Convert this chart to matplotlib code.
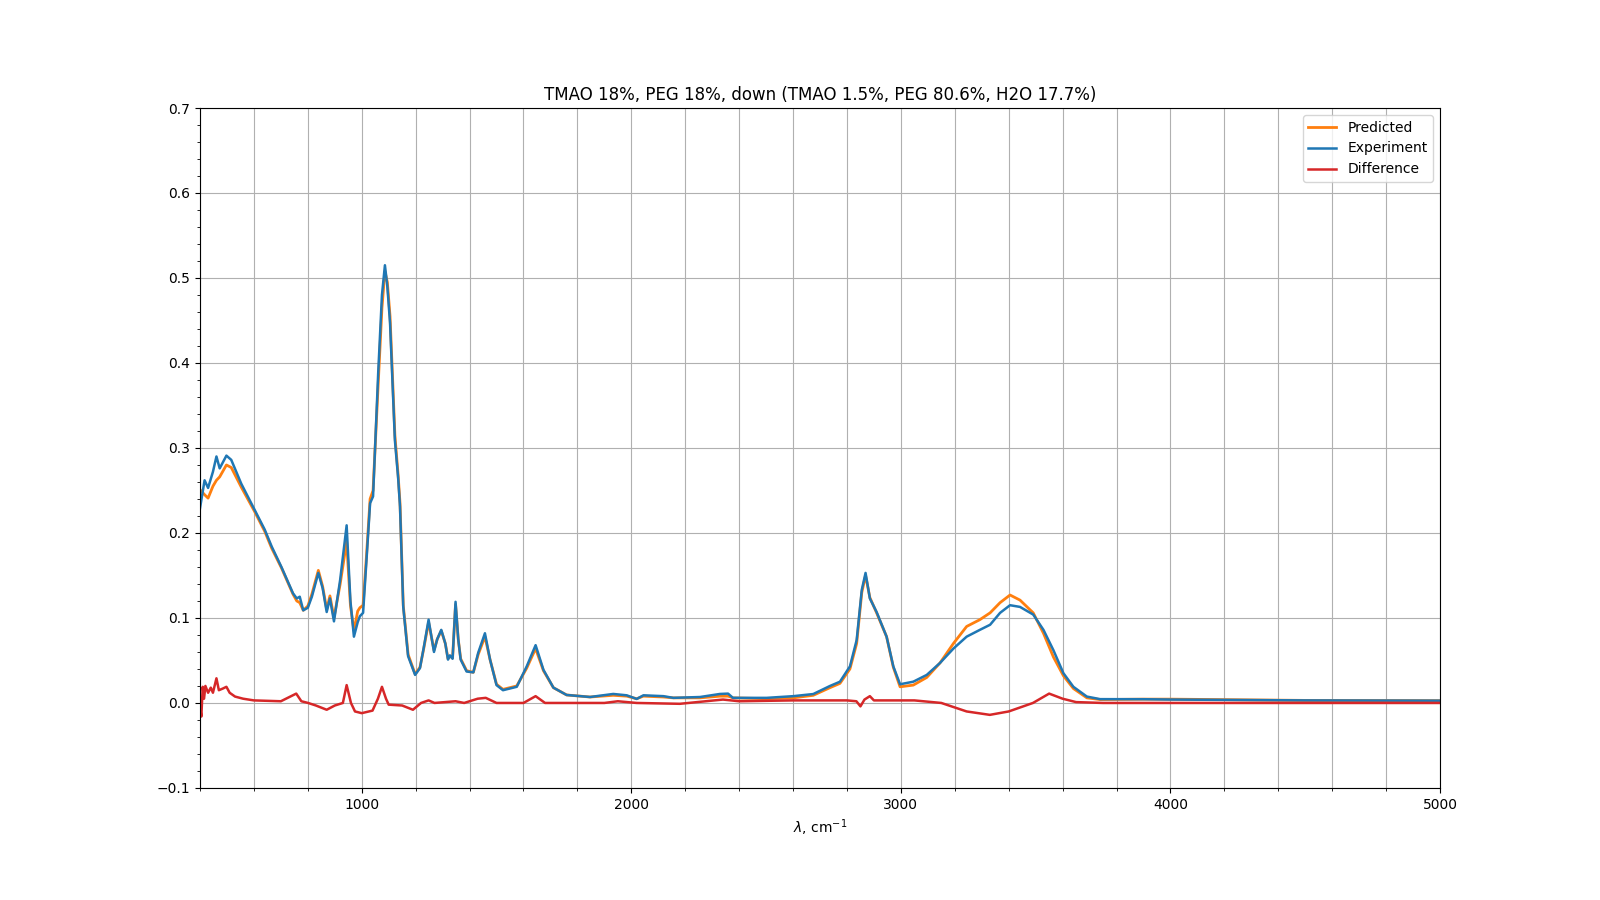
import matplotlib
matplotlib.use("Agg")
import matplotlib.pyplot as plt
from matplotlib.ticker import MultipleLocator

# --- data ---
wavenumber = [400, 417, 430, 448, 461, 473, 498, 516, 553, 603, 640, 666, 702, 745, 759, 770,
              783, 800, 815, 839, 855, 870, 882, 897, 920, 944, 958, 971, 985, 993, 1005, 1018,
              1031, 1042, 1061, 1075, 1086, 1095, 1105, 1123, 1135, 1142, 1154, 1172, 1198, 1216,
              1230, 1248, 1268, 1280, 1295, 1310, 1320, 1327, 1337, 1348, 1358, 1367, 1389, 1414,
              1432, 1457, 1476, 1500, 1524, 1575, 1612, 1645, 1674, 1711, 1760, 1847, 1933, 1983,
              2020, 2045, 2119, 2156, 2255, 2329, 2359, 2377, 2502, 2601, 2675, 2737, 2774, 2811,
              2836, 2855, 2869, 2885, 2910, 2947, 2972, 2997, 3046, 3096, 3145, 3195, 3244, 3293,
              3331, 3368, 3405, 3442, 3491, 3529, 3566, 3603, 3640, 3690, 3739, 3900, 4000, 4500,
              5000]

experiment = [0.229, 0.262, 0.253, 0.272, 0.290, 0.276, 0.291, 0.286, 0.258, 0.227, 0.204, 0.184,
              0.160, 0.129, 0.123, 0.125, 0.109, 0.112, 0.125, 0.153, 0.135, 0.107, 0.123, 0.096,
              0.145, 0.209, 0.120, 0.078, 0.095, 0.102, 0.106, 0.170, 0.235, 0.243, 0.388, 0.480,
              0.515, 0.490, 0.447, 0.309, 0.265, 0.231, 0.113, 0.055, 0.033, 0.041, 0.065, 0.098,
              0.060, 0.075, 0.086, 0.070, 0.051, 0.056, 0.052, 0.119, 0.075, 0.051, 0.037, 0.036,
              0.059, 0.082, 0.051, 0.021, 0.015, 0.019, 0.043, 0.068, 0.039, 0.018, 0.0094, 0.007,
              0.0106, 0.009, 0.0047, 0.009, 0.008, 0.006, 0.007, 0.0106, 0.011, 0.006, 0.006, 0.008,
              0.0105, 0.020, 0.025, 0.043, 0.074, 0.133, 0.153, 0.123, 0.107, 0.078, 0.043, 0.022,
              0.025, 0.033, 0.047, 0.064, 0.078, 0.086, 0.092, 0.106, 0.115, 0.113, 0.104, 0.086,
              0.062, 0.035, 0.019, 0.0075, 0.0045, 0.0044, 0.0040, 0.003, 0.0027]

predicted = [0.251, 0.245, 0.241, 0.255, 0.262, 0.266, 0.280, 0.277, 0.254, 0.225, 0.202, 0.182,
             0.159, 0.128, 0.120, 0.118, 0.109, 0.114, 0.128, 0.156, 0.137, 0.110, 0.126, 0.100,
             0.140, 0.190, 0.115, 0.085, 0.108, 0.112, 0.115, 0.175, 0.240, 0.250, 0.375, 0.465,
             0.508, 0.495, 0.455, 0.315, 0.268, 0.235, 0.115, 0.057, 0.034, 0.042, 0.064, 0.095,
             0.062, 0.075, 0.085, 0.070, 0.052, 0.055, 0.053, 0.116, 0.075, 0.052, 0.038, 0.036,
             0.057, 0.078, 0.051, 0.022, 0.016, 0.020, 0.041, 0.064, 0.038, 0.018, 0.0094, 0.007,
             0.009, 0.008, 0.005, 0.008, 0.007, 0.006, 0.006, 0.008, 0.008, 0.006, 0.005, 0.006,
             0.009, 0.018, 0.023, 0.040, 0.070, 0.130, 0.150, 0.124, 0.106, 0.078, 0.042, 0.019,
             0.021, 0.030, 0.047, 0.070, 0.090, 0.098, 0.106, 0.118, 0.127, 0.121, 0.106, 0.082,
             0.054, 0.032, 0.017, 0.006, 0.004, 0.0045, 0.0045, 0.003, 0.0027]

diff_wavenumber = [400, 405, 410, 415, 420, 430, 440, 448, 461, 470, 485, 498, 510, 530, 560, 600,
                   700, 757, 776, 801, 830, 870, 900, 930, 944, 960, 975, 1000, 1040, 1060, 1075,
                   1090, 1100, 1150, 1190, 1220, 1248, 1270, 1348, 1380, 1430, 1460, 1500, 1600,
                   1645, 1680, 1900, 1950, 2020, 2180, 2340, 2400, 2600, 2800, 2835, 2850, 2865,
                   2885, 2900, 3050, 3150, 3244, 3330, 3400, 3490, 3550, 3600, 3650, 3750, 5000]
difference = [-0.004, -0.016, 0.019, 0.005, 0.020, 0.012, 0.018, 0.012, 0.029, 0.015, 0.017, 0.019,
              0.012, 0.0075, 0.005, 0.003, 0.002, 0.011, 0.002, 0.000, -0.003, -0.008, -0.003,
              0.000, 0.021, 0.000, -0.010, -0.012, -0.009, 0.005, 0.019, 0.005, -0.002, -0.003,
              -0.008, 0.000, 0.003, 0.000, 0.002, 0.000, 0.005, 0.006, 0.000, 0.000, 0.008, 0.000,
              0.000, 0.002, 0.000, -0.001, 0.004, 0.002, 0.003, 0.003, 0.002, -0.004, 0.004, 0.008,
              0.003, 0.003, 0.000, -0.010, -0.014, -0.010, 0.000, 0.011, 0.005, 0.001, 0.000, 0.000]

title = "TMAO 18%, PEG 18%, down (TMAO 1.5%, PEG 80.6%, H2O 17.7%)"

fig, ax = plt.subplots(figsize=(16, 9), dpi=100)
fig.subplots_adjust(left=0.125, right=0.9, top=0.88, bottom=0.1245)

ax.plot(wavenumber, predicted, color="#ff7f0e", linewidth=2.0, label="Predicted")
ax.plot(wavenumber, experiment, color="#1f77b4", linewidth=1.8, label="Experiment")
ax.plot(diff_wavenumber, difference, color="#d62728", linewidth=1.8, label="Difference")

ax.set_xlim(400, 5000)
ax.set_ylim(-0.1, 0.7)
ax.xaxis.set_major_locator(MultipleLocator(1000))
ax.xaxis.set_minor_locator(MultipleLocator(200))
ax.yaxis.set_major_locator(MultipleLocator(0.1))
ax.yaxis.set_minor_locator(MultipleLocator(0.02))

# vertical grid on every 200 cm-1, horizontal only on major ticks
ax.xaxis.grid(True, which="both", color="#b0b0b0", linewidth=0.8)
ax.yaxis.grid(True, which="major", color="#b0b0b0", linewidth=0.8)
ax.set_axisbelow(True)

ax.set_xlabel(r"$\lambda$, cm$^{-1}$")
ax.set_title(title)
ax.legend(loc="upper right")

fig.savefig("out.png")
